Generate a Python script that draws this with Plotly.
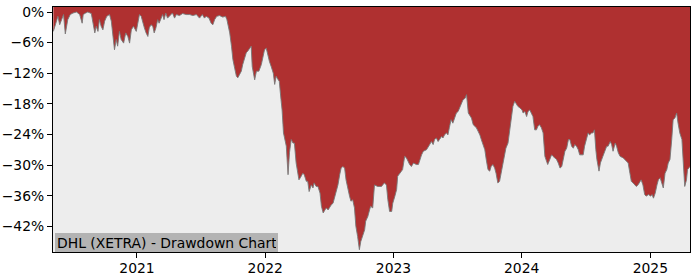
import plotly.graph_objects as go

# ---------------- data ----------------
dates_2020 = ["2020-05-08", "2020-05-16", "2020-05-21", "2020-05-26", "2020-05-31", "2020-06-06",
              "2020-06-11", "2020-06-18", "2020-06-25", "2020-07-03", "2020-07-13", "2020-07-22",
              "2020-07-29", "2020-08-01", "2020-08-08", "2020-08-14", "2020-08-24", "2020-09-03",
              "2020-09-07", "2020-09-12", "2020-09-16", "2020-09-21", "2020-09-26", "2020-10-01",
              "2020-10-07", "2020-10-15", "2020-10-20", "2020-10-24", "2020-10-29", "2020-11-03",
              "2020-11-07", "2020-11-12", "2020-11-17", "2020-11-24", "2020-11-30", "2020-12-06",
              "2020-12-11", "2020-12-16", "2020-12-22", "2020-12-30"]
dd_2020 = [-3.8, -1.8, -0.85, -2.5, -1.5, -0.5,
           -4.3, -1.5, -0.5, -0.2, 0.0, -0.5,
           -2.2, -0.5, -0.2, 0.0, -0.3, -4.1,
           -2.8, -3.8, -1.5, -2.8, -3.5, -1.8,
           -0.85, -0.5, -1.8, -4.8, -7.4, -5.4,
           -6.7, -3.8, -5.4, -6.1, -4.1, -4.8,
           -6.1, -3.5, -2.8, -3.8]

dates_2021 = ["2021-01-04", "2021-01-08", "2021-01-13", "2021-01-18", "2021-01-22", "2021-01-27",
              "2021-02-01", "2021-02-05", "2021-02-10", "2021-02-15", "2021-02-19", "2021-02-24",
              "2021-03-01", "2021-03-05", "2021-03-10", "2021-03-15", "2021-03-19", "2021-03-24",
              "2021-03-29", "2021-04-06", "2021-04-12", "2021-04-18", "2021-04-23", "2021-05-02",
              "2021-05-11", "2021-05-21", "2021-05-31", "2021-06-09", "2021-06-19", "2021-06-28",
              "2021-07-06", "2021-07-12", "2021-07-17", "2021-07-25", "2021-07-31", "2021-08-05",
              "2021-08-10", "2021-08-16", "2021-08-24", "2021-09-02", "2021-09-10", "2021-09-14",
              "2021-09-22", "2021-09-27", "2021-10-01", "2021-10-06", "2021-10-11", "2021-10-15",
              "2021-10-20", "2021-10-25", "2021-10-29", "2021-11-03", "2021-11-08", "2021-11-12",
              "2021-11-18", "2021-11-22", "2021-11-25", "2021-11-29", "2021-12-02", "2021-12-07",
              "2021-12-14", "2021-12-21", "2021-12-27", "2021-12-30"]
dd_2021 = [-1.8, -0.5, -0.85, -2.5, -3.1, -4.1,
           -4.8, -3.1, -2.5, -2.8, -4.1, -3.1,
           -1.5, -2.2, -1.2, -0.5, -1.5, -0.2,
           -1.2, -0.5, -0.2, -1.2, -0.5, -0.7,
           -0.3, -0.5, -0.5, -0.7, -0.5, -1.2,
           -0.5, -1.2, -0.85, -1.2, -2.2, -2.5,
           -1.5, -0.85, -0.7, -1.0, -0.85, -1.5,
           -4.1, -6.7, -9.3, -11.0, -12.6, -12.9,
           -12.3, -11.6, -10.3, -9.0, -8.0, -7.7,
           -7.1, -6.7, -10.7, -12.3, -13.3, -11.6,
           -11.6, -10.3, -8.4, -7.4]

dates_2022 = ["2022-01-04", "2022-01-10", "2022-01-13", "2022-01-18", "2022-01-24", "2022-01-28",
              "2022-02-01", "2022-02-07", "2022-02-10", "2022-02-15", "2022-02-18", "2022-02-22",
              "2022-02-25", "2022-03-02", "2022-03-04", "2022-03-07", "2022-03-11", "2022-03-16",
              "2022-03-21", "2022-03-25", "2022-03-30", "2022-04-04", "2022-04-07", "2022-04-11",
              "2022-04-18", "2022-04-22", "2022-04-28", "2022-05-02", "2022-05-06", "2022-05-12",
              "2022-05-17", "2022-05-20", "2022-05-26", "2022-05-31", "2022-06-06", "2022-06-10",
              "2022-06-15", "2022-06-20", "2022-06-24", "2022-06-29", "2022-07-04", "2022-07-08",
              "2022-07-13", "2022-07-18", "2022-07-22", "2022-07-27", "2022-08-01", "2022-08-05",
              "2022-08-10", "2022-08-15", "2022-08-19", "2022-08-24", "2022-08-29", "2022-09-02",
              "2022-09-07", "2022-09-12", "2022-09-16", "2022-09-21", "2022-09-26", "2022-09-30",
              "2022-10-06", "2022-10-11", "2022-10-14", "2022-10-20", "2022-10-25", "2022-10-28",
              "2022-11-03", "2022-11-08", "2022-11-17", "2022-11-28", "2022-12-06", "2022-12-12",
              "2022-12-16", "2022-12-21", "2022-12-27", "2022-12-30"]
dd_2022 = [-7.1, -9.0, -9.7, -10.7, -12.0, -14.2,
           -12.6, -13.3, -13.6, -17.2, -19.2, -23.7,
           -24.7, -26.3, -28.6, -31.9, -27.6, -25.0,
           -25.7, -25.7, -29.6, -31.6, -32.9, -32.5,
           -31.6, -31.9, -33.2, -33.2, -35.2, -33.9,
           -34.5, -33.5, -34.2, -34.2, -35.5, -38.1,
           -39.4, -38.8, -38.4, -38.8, -38.1, -37.8,
           -37.5, -36.1, -35.5, -33.9, -31.9, -30.6,
           -30.3, -30.6, -32.9, -34.8, -36.1, -37.1,
           -36.8, -38.4, -42.0, -44.0, -46.6, -45.0,
           -43.7, -42.7, -41.0, -40.1, -38.8, -38.1,
           -38.4, -33.9, -34.2, -34.2, -33.5, -33.9,
           -36.8, -39.1, -39.1, -37.5]

dates_2023 = ["2023-01-05", "2023-01-10", "2023-01-13", "2023-01-19", "2023-01-27", "2023-02-02",
              "2023-02-07", "2023-02-16", "2023-02-21", "2023-02-27", "2023-03-07", "2023-03-13",
              "2023-03-17", "2023-03-22", "2023-03-27", "2023-04-05", "2023-04-14", "2023-04-19",
              "2023-04-24", "2023-04-28", "2023-05-03", "2023-05-08", "2023-05-12", "2023-05-18",
              "2023-05-22", "2023-05-26", "2023-06-01", "2023-06-05", "2023-06-09", "2023-06-14",
              "2023-06-19", "2023-06-23", "2023-06-29", "2023-07-04", "2023-07-10", "2023-07-14",
              "2023-07-18", "2023-07-24", "2023-07-28", "2023-08-02", "2023-08-07", "2023-08-11",
              "2023-08-16", "2023-08-21", "2023-08-25", "2023-08-30", "2023-09-04", "2023-09-08",
              "2023-09-13", "2023-09-18", "2023-09-22", "2023-09-27", "2023-10-02", "2023-10-06",
              "2023-10-11", "2023-10-16", "2023-10-20", "2023-10-25", "2023-10-30", "2023-11-03",
              "2023-11-09", "2023-11-14", "2023-11-17", "2023-11-23", "2023-11-28", "2023-12-04",
              "2023-12-07", "2023-12-12", "2023-12-15", "2023-12-21", "2023-12-27"]
dd_2023 = [-36.1, -34.8, -32.2, -31.6, -30.9, -28.3,
           -28.6, -29.9, -30.3, -29.6, -29.9, -29.9,
           -28.9, -28.0, -27.3, -27.0, -26.0, -25.4,
           -26.0, -25.0, -24.7, -25.4, -25.0, -24.4,
           -24.7, -24.1, -23.7, -24.1, -22.7, -21.1,
           -21.8, -20.8, -19.8, -19.5, -18.5, -17.5,
           -17.2, -16.9, -16.2, -19.8, -20.5, -20.8,
           -22.1, -22.4, -22.7, -23.4, -24.1, -25.0,
           -26.0, -27.0, -28.9, -30.9, -31.2, -30.3,
           -29.9, -30.6, -31.6, -33.5, -33.2, -31.9,
           -29.6, -28.0, -26.7, -25.7, -23.1, -20.5,
           -18.5, -17.5, -17.8, -18.5, -18.8]

dates_2024 = ["2024-01-02", "2024-01-05", "2024-01-10", "2024-01-15", "2024-01-19", "2024-01-24",
              "2024-01-29", "2024-02-02", "2024-02-07", "2024-02-12", "2024-02-16", "2024-02-21",
              "2024-02-26", "2024-03-02", "2024-03-07", "2024-03-12", "2024-03-15", "2024-03-21",
              "2024-03-26", "2024-03-30", "2024-04-09", "2024-04-14", "2024-04-19", "2024-04-24",
              "2024-04-29", "2024-05-03", "2024-05-08", "2024-05-13", "2024-05-17", "2024-05-22",
              "2024-05-27", "2024-05-31", "2024-06-05", "2024-06-10", "2024-06-14", "2024-06-24",
              "2024-06-28", "2024-07-03", "2024-07-08", "2024-07-12", "2024-07-18", "2024-07-22",
              "2024-07-26", "2024-07-30", "2024-08-02", "2024-08-08", "2024-08-12", "2024-08-19",
              "2024-08-26", "2024-08-30", "2024-09-03", "2024-09-09", "2024-09-13", "2024-09-17",
              "2024-09-23", "2024-09-27", "2024-10-02", "2024-10-07", "2024-10-16", "2024-10-21",
              "2024-10-25", "2024-10-30", "2024-11-04", "2024-11-08", "2024-11-13", "2024-11-18",
              "2024-11-22", "2024-11-27", "2024-12-02", "2024-12-06", "2024-12-11", "2024-12-16",
              "2024-12-20", "2024-12-27"]
dd_2024 = [-19.2, -19.8, -19.5, -20.5, -19.5, -19.2,
           -19.8, -20.5, -23.1, -23.1, -22.4, -22.1,
           -22.7, -23.7, -28.3, -29.6, -29.9, -28.9,
           -28.0, -28.3, -28.9, -29.6, -30.6, -30.3,
           -28.9, -27.3, -26.7, -25.0, -25.0, -26.3,
           -26.7, -26.0, -26.3, -27.0, -28.0, -28.0,
           -26.3, -24.7, -23.7, -24.1, -23.7, -23.7,
           -23.1, -27.0, -28.9, -31.2, -29.6, -28.3,
           -27.0, -26.3, -26.3, -25.4, -26.0, -27.3,
           -25.7, -26.3, -27.6, -28.3, -28.6, -28.9,
           -29.3, -29.6, -31.6, -33.2, -33.5, -33.9,
           -34.2, -33.9, -33.2, -32.9, -33.9, -35.8,
           -36.1, -35.8]

dates_2025 = ["2025-01-02", "2025-01-06", "2025-01-10", "2025-01-15", "2025-01-20", "2025-01-24",
              "2025-01-29", "2025-02-03", "2025-02-07", "2025-02-12", "2025-02-17", "2025-02-21",
              "2025-02-26", "2025-03-03", "2025-03-07", "2025-03-12", "2025-03-17", "2025-03-21",
              "2025-03-26", "2025-04-01", "2025-04-04", "2025-04-09", "2025-04-14", "2025-04-17",
              "2025-04-24"]
dd_2025 = [-36.1, -35.8, -36.5, -35.5, -33.9, -32.9,
           -32.5, -33.5, -34.5, -31.6, -30.9, -29.6,
           -28.9, -25.0, -21.1, -20.8, -19.8, -21.8,
           -23.7, -25.0, -28.9, -34.2, -32.9, -30.9,
           -30.3]

dates = dates_2020 + dates_2021 + dates_2022 + dates_2023 + dates_2024 + dates_2025
drawdown = dd_2020 + dd_2021 + dd_2022 + dd_2023 + dd_2024 + dd_2025

y_tick_vals = [0, -6, -12, -18, -24, -30, -36, -42]
y_tick_text = ["0%", "\u22126%", "\u221212%", "\u221218%", "\u221224%", "\u221230%", "\u221236%", "\u221242%"]
x_tick_vals = ["2021-01-01", "2022-01-01", "2023-01-01", "2024-01-01", "2025-01-01"]
x_tick_text = ["2021", "2022", "2023", "2024", "2025"]

x_range = ["2020-05-07", "2025-04-24"]
y_range = [-47.05, 0.98]
ceiling = 5  # level above the axis top, fill region reaches the top of the plot

label_text = "DHL (XETRA) - Drawdown Chart"

# ---------------- figure ----------------
fig = go.Figure()
fig.add_trace(go.Scatter(x=dates, y=[ceiling] * len(dates), mode="lines",
                         line=dict(width=0), hoverinfo="skip", showlegend=False))
fig.add_trace(go.Scatter(x=dates, y=drawdown, mode="lines", fill="tonexty",
                         fillcolor="#AF3030", line=dict(color="rgba(120,120,120,0.9)", width=1),
                         showlegend=False))

font_family = "DejaVu Sans"
fs = 13.9
fig.update_layout(
    width=700, height=280,
    margin=dict(l=53, r=10, t=7, b=28, autoexpand=False),
    paper_bgcolor="white",
    plot_bgcolor="#EDEDED",
    font=dict(family=font_family, size=fs, color="black"),
    showlegend=False,
)
fig.update_xaxes(
    range=x_range, tickvals=x_tick_vals, ticktext=x_tick_text, automargin=False,
    showgrid=False, zeroline=False, showline=True, linecolor="black", linewidth=1,
    mirror=True, ticks="outside", ticklen=5, tickcolor="black", ticklabelstandoff=-2,
    tickfont=dict(family=font_family, size=fs, color="black"),
)
fig.update_yaxes(
    range=y_range, tickvals=y_tick_vals, ticktext=y_tick_text, automargin=False,
    showgrid=False, zeroline=False, showline=True, linecolor="black", linewidth=1,
    mirror=True, ticks="outside", ticklen=5, tickcolor="black",
    tickfont=dict(family=font_family, size=fs, color="black"),
)
fig.add_annotation(
    text=label_text, xref="paper", yref="paper", x=0, y=0,
    xanchor="left", yanchor="bottom", showarrow=False, align="left",
    width=219, height=15, valign="middle", xshift=2,
    bgcolor="#B3B3B3", borderpad=2, borderwidth=0,
    font=dict(family=font_family, size=fs, color="black"),
)

fig.write_html("out.html")
